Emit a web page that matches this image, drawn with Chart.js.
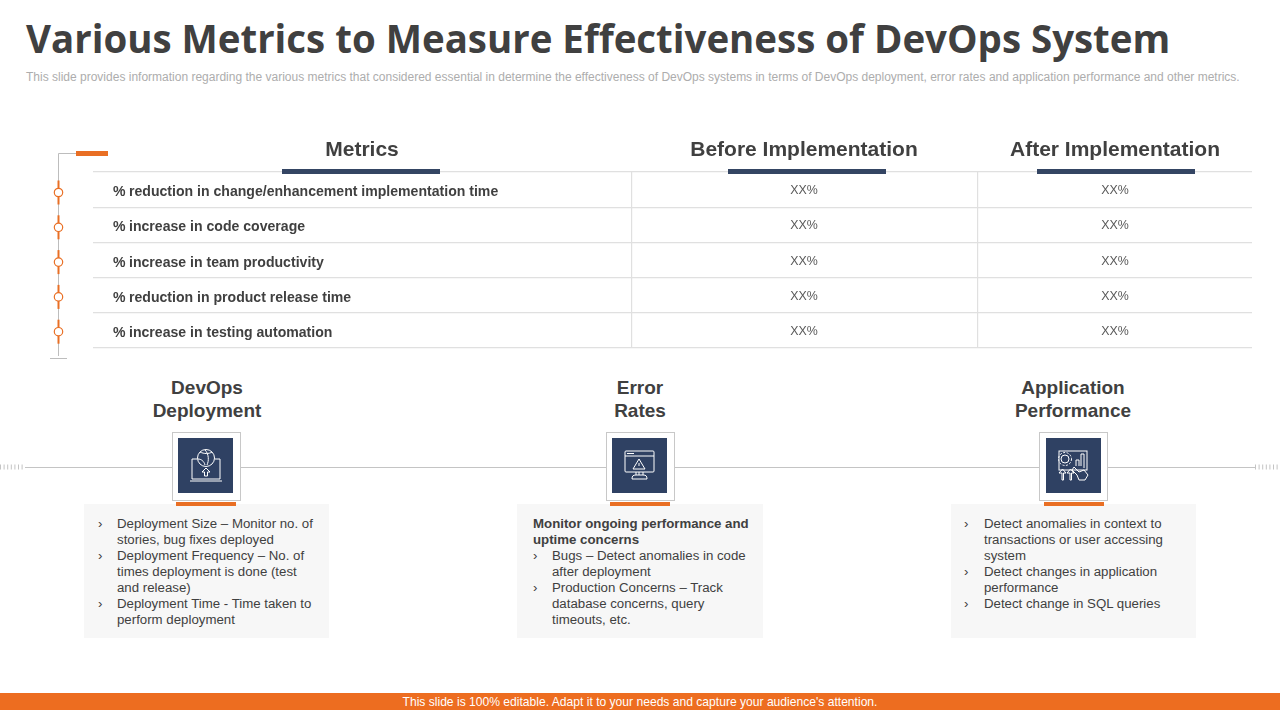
<!DOCTYPE html>
<html>
<head>
<meta charset="utf-8">
<title>DevOps metrics</title>
<script src="https://cdn.jsdelivr.net/npm/chart.js@4"></script>
<style>
  html, body { margin: 0; padding: 0; background: #fff; }
  #slide { position: relative; width: 1280px; height: 720px; overflow: hidden; font-family: "Liberation Sans", Arial, sans-serif; color: #404040; }
  #slide > * { position: absolute; }
  #title { left: 26px; top: 11px; font: bold 38.450px/55px "Open Sans", sans-serif; white-space: nowrap; color: #404040; }
  #subtitle { left: 26px; top: 69px; font: 12px/17px "Liberation Sans", sans-serif; white-space: nowrap; color: #adadad; }
  #tableWrap { left: 93px; top: 130px; width: 1159px; height: 225px; }
  .underline { top: 169px; width: 158px; height: 5px; background: #344563; }
  .groupTitle { top: 375.500px; width: 240px; text-align: center; font: bold 19px/23px "Liberation Sans", sans-serif; color: #404040; }
  .iconBox { top: 432px; width: 67px; height: 67px; background: #fff; border: 1px solid #c8c8c8; }
  .iconInner { position: absolute; left: 5px; top: 5px; width: 55px; height: 55px; background: #2f4163; }
  .panel { top: 504px; height: 134px; width: 245px; background: #f7f7f7; }
  .accent { top: 502px; width: 60px; height: 4px; background: #e96f24; }
  .panelLine { position: absolute; white-space: nowrap; font-size: 13.250px; line-height: 16px; color: #404040; }
  #footer { left: 0; top: 693px; width: 1280px; height: 17px; background: #ed6d20; color: #fff; font-size: 12.100px; line-height: 18px; text-align: center; }
</style>
</head>
<body>
<div id="slide">
  <div id="title">Various Metrics to Measure Effectiveness of DevOps System</div>
  <div id="subtitle">This slide provides information regarding the various metrics that considered essential in determine the effectiveness of DevOps systems in terms of DevOps deployment, error rates and application performance and other metrics.</div>

  <!-- timeline decoration left of the table -->
  <svg style="left:0;top:0" width="1280" height="720" fill="none">
    <path d="M76 153.500H58.500V356" stroke="#bdbdbd" stroke-width="1"/>
    <rect x="76" y="151" width="32" height="5" fill="#e96f24"/>
    <path d="M50 358.500H67" stroke="#bdbdbd" stroke-width="1"/>
    <g id="timelineNodes"></g>
    <path d="M25 467.500H172M241 467.500H606M675 467.500H1039M1108 467.500H1255" stroke="#c4c4c4" stroke-width="1"/>
    <path d="M0 467H25M1255 467H1280" stroke="#c4c4c4" stroke-width="5" stroke-dasharray="1 2.600"/>
  </svg>

  <div id="tableWrap"><canvas id="tableChart"></canvas></div>
  <div class="underline" style="left:282px"></div>
  <div class="underline" style="left:728px"></div>
  <div class="underline" style="left:1037px"></div>

  <div id="footer">This slide is 100% editable. Adapt it to your needs and capture your audience's attention.</div>
</div>

<script>
// Table content
const columnHeaders = ['Metrics', 'Before Implementation', 'After Implementation'];
const metricNames = [
  'reduction in change/enhancement implementation time',
  'increase in code coverage',
  'increase in team productivity',
  'reduction in product release time',
  'increase in testing automation'
];
const beforeValues = ['XX%', 'XX%', 'XX%', 'XX%', 'XX%'];
const afterValues = ['XX%', 'XX%', 'XX%', 'XX%', 'XX%'];

// Lower section content
const groupTitles = [['DevOps', 'Deployment'], ['Error', 'Rates'], ['Application', 'Performance']];
const deploymentLines = [
  ['b', 'Deployment Size – Monitor no. of'], ['', 'stories, bug fixes deployed'],
  ['b', 'Deployment Frequency – No. of'], ['', 'times deployment is done (test'], ['', 'and release)'],
  ['b', 'Deployment Time - Time taken to'], ['', 'perform deployment']
];
const errorLines = [
  ['h', 'Monitor ongoing performance and'], ['h', 'uptime concerns'],
  ['b', 'Bugs – Detect anomalies in code'], ['', 'after deployment'],
  ['b', 'Production Concerns – Track'], ['', 'database concerns, query'], ['', 'timeouts, etc.']
];
const performanceLines = [
  ['b', 'Detect anomalies in context to'], ['', 'transactions or user accessing'], ['', 'system'],
  ['b', 'Detect changes in application'], ['', 'performance'],
  ['b', 'Detect change in SQL queries']
];

// Column layout of the table, in px from its left edge
const COL_EDGES = [0, 539, 885, 1159];
const COL_CENTERS = [269, 711, 1022];
const TEXT_LEFT = 20;

// Draws headers and cell text from the points the scales placed
const tableText = {
  id: 'tableText',
  afterDatasetsDraw(chart) {
    const c = chart.ctx;
    const x = chart.scales.x;
    c.save();
    c.textBaseline = 'middle';
    c.textAlign = 'center';
    c.fillStyle = '#404040';
    c.font = 'bold 21px "Liberation Sans"';
    columnHeaders.forEach((h, i) => c.fillText(h, x.getPixelForValue(COL_CENTERS[i]), 20));

    chart.data.datasets.forEach((ds, i) => {
      const points = chart.getDatasetMeta(i).data;
      points.forEach((pt, j) => {
        const textY = Math.round(pt.y + 1.500);
        if (i === 0) {
          c.textAlign = 'left';
          c.font = 'bold 14.080px "Liberation Sans"';
          c.fillStyle = '#404040';
          c.fillText('%', pt.x, textY + 1);
          c.fillText(metricNames[j], pt.x + 16, textY + 1);
        } else {
          c.textAlign = 'center';
          c.font = '12.400px "Liberation Sans"';
          c.fillStyle = '#595959';
          c.fillText(ds.cells[j], pt.x, textY);
        }
      });
    });
    c.restore();
  }
};

new Chart(document.getElementById('tableChart'), {
  type: 'scatter',
  plugins: [tableText],
  data: {
    datasets: [
      { cells: metricNames, data: metricNames.map(m => ({ x: TEXT_LEFT, y: m })) },
      { cells: beforeValues, data: metricNames.map(m => ({ x: COL_CENTERS[1], y: m })) },
      { cells: afterValues, data: metricNames.map(m => ({ x: COL_CENTERS[2], y: m })) }
    ].map(ds => ({ ...ds, pointRadius: 0, showLine: false }))
  },
  options: {
    responsive: true,
    maintainAspectRatio: false,
    animation: false,
    layout: { padding: { top: 42, bottom: 7, left: 0, right: 0 } },
    plugins: { legend: { display: false }, tooltip: { enabled: false } },
    scales: {
      x: {
        type: 'linear',
        min: COL_EDGES[0],
        max: COL_EDGES[3],
        afterBuildTicks: scale => { scale.ticks = COL_EDGES.map(v => ({ value: v })); },
        ticks: { display: false },
        border: { display: false },
        grid: {
          drawTicks: false,
          lineWidth: 1.200,
          color: ctx => (ctx.tick && (ctx.tick.value === COL_EDGES[1] || ctx.tick.value === COL_EDGES[2])) ? '#e0e0e0' : 'rgba(0,0,0,0)'
        }
      },
      y: {
        type: 'category',
        labels: metricNames,
        offset: true,
        ticks: { display: false },
        border: { display: false },
        grid: { offset: true, drawTicks: false, lineWidth: 1.200, color: '#e0e0e0' }
      }
    }
  }
});

// Timeline nodes next to each table row
const nodes = document.getElementById('timelineNodes');
const rowCount = metricNames.length;
let nodeSvg = '';
for (let i = 0; i < rowCount; i++) {
  const y = 192.500 + i * 34.800;
  nodeSvg += `<path d="M58.500 ${y - 12}V${y + 12}" stroke="#e96f24" stroke-width="2"/>` +
    `<circle cx="58.500" cy="${y}" r="4.200" fill="#fff" stroke="#e96f24" stroke-width="1.200"/>`;
}
nodes.innerHTML = nodeSvg;

// Icons, drawn in a 55x55 box
const icons = [
  `<circle cx="28" cy="20" r="8.500"/><path d="M22 14c4 2 9 2 12 0M27 12c4 4 4 11 2 15M20 21c3 0 6 2 7 6"/>
   <path d="M19 21H14V41H42V21H37M12 43H44"/><path d="M28 30l-4 4h2.500v4h3v-4h2.500z"/>`,
  `<rect x="13" y="13" width="29" height="21" rx="1"/><path d="M13 18H42M15 15.500h7M27 37v-3M24 34v3M31 37v-3M20 41c0-3 1-4 4-4h7c3 0 4 1 4 4z"/>
   <path d="M27 21l6 10H21zM27 25v3"/>`,
  `<rect x="13" y="13" width="28" height="19"/><circle cx="19" cy="21" r="4"/><circle cx="19" cy="21" r="6.500" stroke-dasharray="2 1.500"/>
   <path d="M30 28v-6h3v6M35 28V16h3v14M16 42v-7h-3l3.500-4 3.500 4h-2.500v7zM24 42v-7h-3l3.500-4 3.500 4h-2.500v7z"/>
   <path d="M28 29l5 5 5-2 4 5-3 5h-6l-2-5-5-5z"/>`
];

// Lower section
const groups = [
  { center: 207, box: 172, inner: 5, accent: 176, panel: 84, panelW: 245, textLeft: 33, bullet: 14, lines: deploymentLines },
  { center: 640, box: 606, inner: 5, accent: 610, panel: 517, panelW: 246, textLeft: 35, bullet: 16, lines: errorLines },
  { center: 1073, box: 1039, inner: 6, accent: 1044, panel: 951, panelW: 245, textLeft: 33, bullet: 13, lines: performanceLines }
];
const slide = document.getElementById('slide');
function addDiv(parent, cls, style, html) {
  const d = document.createElement('div');
  d.className = cls;
  d.style.cssText = style;
  d.innerHTML = html || '';
  parent.appendChild(d);
  return d;
}
groups.forEach((g, i) => {
  addDiv(slide, 'groupTitle', `left:${g.center - 120}px`, groupTitles[i].join('<br>'));
  const panel = addDiv(slide, 'panel', `left:${g.panel}px;width:${g.panelW}px`);
  g.lines.forEach((line, j) => {
    const top = 12 + j * 16;
    if (line[0] === 'h') {
      addDiv(panel, 'panelLine', `left:16px;top:${top}px;font-weight:bold`, line[1]);
    } else {
      if (line[0] === 'b') addDiv(panel, 'panelLine', `left:${g.bullet}px;top:${top}px`, '›');
      addDiv(panel, 'panelLine', `left:${g.textLeft}px;top:${top}px`, line[1]);
    }
  });
  addDiv(slide, 'accent', `left:${g.accent}px`);
  const box = addDiv(slide, 'iconBox', `left:${g.box}px`);
  addDiv(box, 'iconInner', `left:${g.inner}px`, `<svg width="55" height="55" fill="none" stroke="#fff" stroke-width="1">${icons[i]}</svg>`);
});
</script>
</body>
</html>
